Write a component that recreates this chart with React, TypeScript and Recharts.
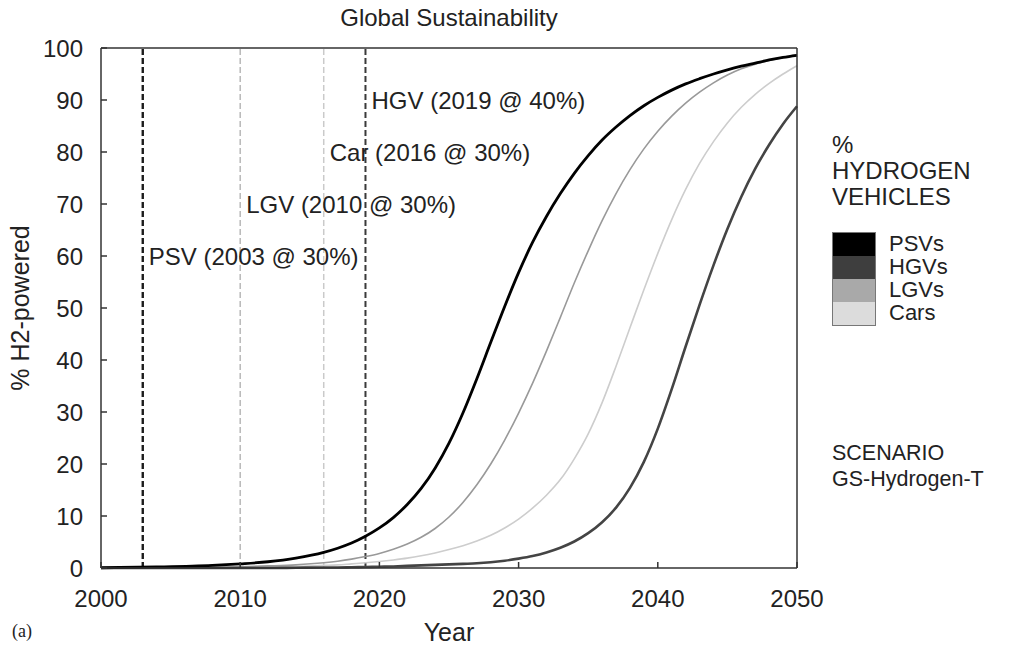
import { LineChart, Line, XAxis, YAxis, ReferenceLine, ReferenceDot, Legend } from 'recharts';

const FONT = '"Liberation Sans", Arial, Helvetica, sans-serif';

// year grid shared by every curve
const years = [
  2000, 2004, 2008, 2010, 2012, 2014, 2016, 2017, 2018, 2019, 2020, 2021, 2022, 2023, 2024,
  2025, 2026, 2027, 2028, 2029, 2030, 2031, 2032, 2033, 2034, 2035, 2036, 2037, 2038, 2039,
  2040, 2041, 2042, 2043, 2044, 2045, 2046, 2047, 2048, 2049, 2050,
];

// % of fleet H2-powered
const psv = [
  0.05, 0.2, 0.5, 0.8, 1.2, 1.9, 3.0, 3.8, 4.8, 6.1, 7.7, 9.7, 12.2, 15.3, 19.2,
  24.0, 29.8, 36.4, 43.4, 50.3, 56.8, 62.6, 67.6, 72.0, 75.9, 79.3, 82.3, 84.8, 87.0, 88.9,
  90.5, 91.9, 93.1, 94.1, 95.0, 95.8, 96.5, 97.1, 97.7, 98.2, 98.6,
];
const hgv = [
  0, 0, 0, 0, 0, 0.05, 0.1, 0.1, 0.15, 0.2, 0.25, 0.3, 0.4, 0.5, 0.6,
  0.7, 0.8, 0.9, 1.1, 1.4, 1.8, 2.3, 3.0, 3.9, 5.1, 6.7, 8.8, 11.6, 15.4, 20.4,
  26.8, 34.4, 42.6, 50.6, 58.2, 65.2, 71.4, 76.8, 81.4, 85.4, 88.8,
];
const lgv = [
  0, 0.05, 0.15, 0.25, 0.4, 0.6, 1.0, 1.3, 1.7, 2.2, 2.8, 3.6, 4.6, 5.9, 7.6,
  9.8, 12.6, 16.0, 20.0, 24.6, 29.8, 35.5, 41.7, 48.2, 54.8, 61.0, 66.8, 72.0, 76.6, 80.6,
  84.0, 86.9, 89.4, 91.5, 93.3, 94.8, 96.0, 96.9, 97.6, 98.2, 98.7,
];
const cars = [
  0, 0.05, 0.1, 0.15, 0.2, 0.3, 0.5, 0.6, 0.8, 1.0, 1.25, 1.55, 1.9, 2.35, 2.9,
  3.55, 4.3, 5.2, 6.3, 7.7, 9.4, 11.5, 14.0, 17.0, 21.0, 25.8, 31.8, 38.8, 46.2, 53.5,
  60.5, 67.0, 72.8, 77.8, 82.0, 85.6, 88.6, 91.1, 93.2, 95.0, 96.6,
];

const xTicks = [2000, 2010, 2020, 2030, 2040, 2050];
const yTicks = [0, 10, 20, 30, 40, 50, 60, 70, 80, 90, 100];

// introduction dates shown as dashed verticals
const events = [
  { year: 2003, level: 60, text: 'PSV (2003 @ 30%)', color: '#1c1c1c', width: 2.4 },
  { year: 2010, level: 70, text: 'LGV (2010 @ 30%)', color: '#b8b8b8', width: 1.5 },
  { year: 2016, level: 80, text: 'Car (2016 @ 30%)', color: '#cacaca', width: 1.5 },
  { year: 2019, level: 90, text: 'HGV (2019 @ 40%)', color: '#3a3a3a', width: 2 },
];

const series = [
  { key: 'cars', name: 'Cars', color: '#cdcdcd', width: 1.6 },
  { key: 'lgv', name: 'LGVs', color: '#999999', width: 1.6 },
  { key: 'hgv', name: 'HGVs', color: '#444444', width: 2.6 },
  { key: 'psv', name: 'PSVs', color: '#000000', width: 2.8 },
];
const legendOrder = ['PSVs', 'HGVs', 'LGVs', 'Cars'];
const swatch: Record<string, string> = {
  PSVs: '#000000',
  HGVs: '#3e3e3e',
  LGVs: '#a9a9a9',
  Cars: '#dcdcdc',
};

const data = years.map((year, i) => ({
  year,
  psv: psv[i],
  hgv: hgv[i],
  lgv: lgv[i],
  cars: cars[i],
}));

function SidePanel({ payload }: any) {
  const items = (payload || [])
    .filter((p: any) => legendOrder.includes(p.value))
    .sort((a: any, b: any) => legendOrder.indexOf(a.value) - legendOrder.indexOf(b.value));
  return (
    <div style={{ fontFamily: FONT, fontSize: 24, color: '#222', textAlign: 'left' }}>
      <div style={{ lineHeight: '26px' }}>%</div>
      <div style={{ lineHeight: '26px' }}>HYDROGEN</div>
      <div style={{ lineHeight: '26px' }}>VEHICLES</div>
      <div style={{ marginTop: 22, display: 'flex' }}>
        <div style={{ border: '1px solid #777', width: 42 }}>
          {items.map((it: any) => (
            <div key={it.value} style={{ height: 23, background: swatch[it.value] }} />
          ))}
        </div>
        <div style={{ marginLeft: 13, fontSize: 22 }}>
          {items.map((it: any) => (
            <div key={it.value} style={{ height: 23, lineHeight: '23px' }}>
              {it.value}
            </div>
          ))}
        </div>
      </div>
      <div style={{ marginTop: 114, lineHeight: '26px', fontSize: 21.5 }}>SCENARIO</div>
      <div style={{ lineHeight: '26px', fontSize: 21.5 }}>GS-Hydrogen-T</div>
    </div>
  );
}

export default function App() {
  return (
    <div style={{ position: 'absolute', left: 0, top: 0, width: 1011, height: 648, background: '#fff', fontFamily: FONT }}>
      <div
        style={{
          position: 'absolute',
          left: 101,
          width: 696,
          top: 4,
          textAlign: 'center',
          fontSize: 24,
          color: '#222',
        }}
      >
        Global Sustainability
      </div>
      <div style={{ position: 'absolute', left: 12, top: 621, fontFamily: '"Liberation Serif", serif', fontSize: 18, color: '#222' }}>
        (a)
      </div>
      <LineChart width={1011} height={648} data={data} margin={{ top: 47, right: 213, left: 10, bottom: 0 }}>
        <XAxis
          dataKey="year"
          type="number"
          domain={[2000, 2050]}
          ticks={xTicks}
          interval={0}
          height={80}
          tickSize={-6}
          tickMargin={28}
          axisLine={{ stroke: '#333', strokeWidth: 1.5 }}
          tickLine={{ stroke: '#333', strokeWidth: 1.5 }}
          tick={{ fill: '#222', fontSize: 24, fontFamily: FONT }}
          label={{ value: 'Year', position: 'insideBottom', offset: 7, fill: '#222', fontSize: 25, fontFamily: FONT }}
        />
        <XAxis
          xAxisId="top"
          orientation="top"
          type="number"
          dataKey="year"
          domain={[2000, 2050]}
          ticks={xTicks}
          interval={0}
          height={1}
          tickSize={-6}
          tick={false}
          axisLine={{ stroke: '#333', strokeWidth: 1.5 }}
          tickLine={{ stroke: '#333', strokeWidth: 1.5 }}
        />
        <YAxis
          type="number"
          domain={[0, 100]}
          ticks={yTicks}
          interval={0}
          width={91}
          tickSize={-6}
          tickMargin={24}
          axisLine={{ stroke: '#333', strokeWidth: 1.5 }}
          tickLine={{ stroke: '#333', strokeWidth: 1.5 }}
          tick={{ fill: '#222', fontSize: 24, fontFamily: FONT }}
          label={{
            value: '% H2-powered',
            angle: -90,
            position: 'insideLeft',
            offset: 10,
            fill: '#222',
            fontSize: 25,
            fontFamily: FONT,
            style: { textAnchor: 'middle' },
          }}
        />
        <YAxis
          yAxisId="right"
          orientation="right"
          type="number"
          domain={[0, 100]}
          ticks={yTicks}
          interval={0}
          width={1}
          tickSize={-6}
          tick={false}
          axisLine={{ stroke: '#333', strokeWidth: 1.5 }}
          tickLine={{ stroke: '#333', strokeWidth: 1.5 }}
        />
        {events.map((e) => (
          <ReferenceLine
            key={e.year}
            x={e.year}
            stroke={e.color}
            strokeWidth={e.width}
            strokeDasharray="6 3"
          />
        ))}
        {events.map((e) => (
          <ReferenceDot
            key={'lbl' + e.year}
            x={e.year}
            y={e.level}
            r={1}
            fill="none"
            stroke="none"
            label={{ value: e.text, position: 'right', offset: 5, fill: '#222', fontSize: 24, fontFamily: FONT }}
          />
        ))}
        {/* invisible series so the mirrored top/right axes get drawn */}
        <Line
          xAxisId="top"
          yAxisId="right"
          dataKey="psv"
          stroke="none"
          legendType="none"
          dot={false}
          activeDot={false}
          isAnimationActive={false}
        />
        {series.map((s) => (
          <Line
            key={s.key}
            type="monotone"
            dataKey={s.key}
            name={s.name}
            stroke={s.color}
            strokeWidth={s.width}
            dot={false}
            isAnimationActive={false}
          />
        ))}
        <Legend
          layout="vertical"
          align="center"
          verticalAlign="middle"
          content={<SidePanel />}
          wrapperStyle={{ left: 832, top: 132, width: 178 }}
        />
      </LineChart>
    </div>
  );
}
